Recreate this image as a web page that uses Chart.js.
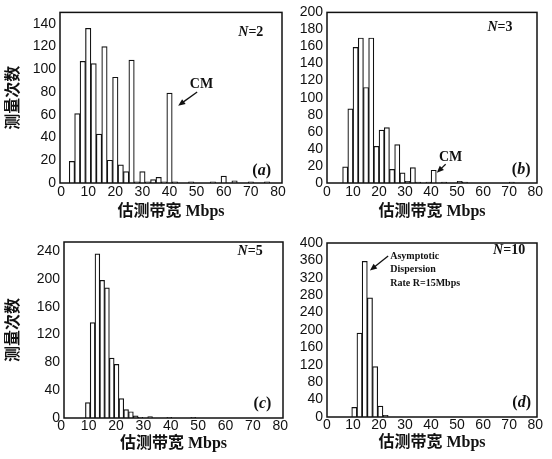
<!DOCTYPE html>
<html><head><meta charset="utf-8">
<script src="https://cdn.jsdelivr.net/npm/chart.js@4/dist/chart.umd.min.js"></script>
<style>
html,body{margin:0;padding:0;background:#fff;}
body{width:552px;height:459px;position:relative;overflow:hidden;}
canvas{position:absolute;}
</style></head><body>
<canvas id="ca" style="left:0px;top:0px;width:296px;height:228px" width="296" height="228"></canvas>
<canvas id="cb" style="left:296px;top:0px;width:256px;height:228px" width="256" height="228"></canvas>
<canvas id="cc" style="left:0px;top:228px;width:296px;height:231px" width="296" height="231"></canvas>
<canvas id="cd" style="left:296px;top:228px;width:256px;height:231px" width="256" height="231"></canvas>
<script>
// ---- data (bin centres in Mbps, counts) ----
const xTicks = [0,10,20,30,40,50,60,70,80];
const yTicksA = [0,20,40,60,80,100,120,140];
const yTicksB = [0,20,40,60,80,100,120,140,160,180,200];
const yTicksC = [0,40,80,120,160,200,240];
const yTicksD = [0,40,80,120,160,200,240,280,320,360,400];

const binsA   = [4,6,8,10,12,14,16,18,20,22,24,26,28,30,32,34,36,38,40,42,48,56,60,64,70,76];
const countsA = [19,61,107,136,105,43,120,20,93,16,10,108,1,10,1,3,5,1,79,1,1,1,6,2,1,1];

const binsB   = [7,9,11,13,15,17,19,21,23,25,27,29,31,33,35,39,41,45,51,53,71];
const countsB = [19,87,159,170,112,170,43,62,65,16,45,12,2,18,1,1,15,1,2,1,1];

const binsC   = [9.7,11.45,13.2,14.95,16.7,18.45,20.2,21.95,23.7,25.45,27.2,28.95,32.45,39.45,48.2];
const countsC = [22,137,236,198,187,86,77,28,12,9,3,1,2,1,1];

const binsD   = [10.5,12.5,14.5,16.5,18.5,20.5,22.5];
const countsD = [22,193,358,274,116,25,4];

const xTitle = '估测带宽 Mbps';
const yTitle = '测量次数';

// ---- helpers ----
const TICK_FONT = {family:'"Liberation Sans", Arial, sans-serif', size:14};
const TITLE_FONT = {family:'"Liberation Serif", "Noto Sans CJK SC", serif', size:16, weight:'bold'};

const framePlugin = {
  id:'frame',
  afterDraw(chart){
    const {ctx, chartArea:a} = chart;
    ctx.save();
    ctx.strokeStyle = '#111';
    ctx.lineWidth = 1.5;
    ctx.strokeRect(a.left, a.top, a.right - a.left, a.bottom - a.top);
    const notes = chart.options.plugins.notes || {};
    const xs = chart.scales.x, ys = chart.scales.y;
    (notes.texts || []).forEach(n => {
      let px = xs.getPixelForValue(n.x), py = ys.getPixelForValue(n.y);
      ctx.textBaseline = 'middle';
      let total = 0;
      n.parts.forEach(p => { ctx.font = p.font; total += ctx.measureText(p.t).width; });
      let cx = n.align === 'left' ? px : (n.align === 'right' ? px - total : px - total/2);
      ctx.fillStyle = '#111';
      ctx.textAlign = 'left';
      n.parts.forEach(p => { ctx.font = p.font; ctx.fillText(p.t, cx, py); cx += ctx.measureText(p.t).width; });
    });
    (notes.arrows || []).forEach(ar => {
      const x1 = xs.getPixelForValue(ar.x1), y1 = ys.getPixelForValue(ar.y1);
      const x2 = xs.getPixelForValue(ar.x2), y2 = ys.getPixelForValue(ar.y2);
      const ang = Math.atan2(y2 - y1, x2 - x1);
      const hl = 7, hw = 3;
      ctx.strokeStyle = '#111'; ctx.fillStyle = '#111'; ctx.lineWidth = 1.3;
      ctx.beginPath(); ctx.moveTo(x1, y1);
      ctx.lineTo(x2 - Math.cos(ang)*hl*0.8, y2 - Math.sin(ang)*hl*0.8); ctx.stroke();
      ctx.beginPath();
      ctx.moveTo(x2, y2);
      ctx.lineTo(x2 - Math.cos(ang)*hl + Math.sin(ang)*hw, y2 - Math.sin(ang)*hl - Math.cos(ang)*hw);
      ctx.lineTo(x2 - Math.cos(ang)*hl - Math.sin(ang)*hw, y2 - Math.sin(ang)*hl + Math.cos(ang)*hw);
      ctx.closePath(); ctx.fill();
    });
    ctx.restore();
  }
};

const SERIF = '"Liberation Serif", "Times New Roman", serif';
function nLabel(x, y, num){
  return {x, y, align:'center', parts:[
    {t:'N', font:'italic bold 14px ' + SERIF},
    {t:'=' + num, font:'bold 14px ' + SERIF}]};
}
function panelLabel(x, y, letter){
  return {x, y, align:'center', parts:[
    {t:'(', font:'bold 16px ' + SERIF},
    {t:letter, font:'italic bold 16px ' + SERIF},
    {t:')', font:'bold 16px ' + SERIF}]};
}

function makeChart(id, bins, counts, cfg){
  const pts = bins.map((b, i) => ({x:b, y:counts[i]}));
  return new Chart(document.getElementById(id), {
    type:'bar',
    data:{datasets:[{
      data:pts,
      backgroundColor:'#ffffff',
      borderColor:'#111111',
      borderWidth:1.2,
      barPercentage:1,
      categoryPercentage:1,
      borderSkipped:'bottom'
    }]},
    options:{
      responsive:false,
      devicePixelRatio:1,
      animation:false,
      events:[],
      layout:{padding:cfg.padding},
      plugins:{legend:{display:false}, tooltip:{enabled:false}, notes:cfg.notes},
      scales:{
        x:{
          type:'linear', min:cfg.xmin, max:cfg.xmax, offset:false,
          grid:{display:false, drawTicks:false},
          border:{display:false},
          afterBuildTicks:s => { s.ticks = xTicks.map(v => ({value:v})); },
          afterFit:s => { s.height = cfg.xh; },
          ticks:{font:TICK_FONT, color:'#111', padding:cfg.xtk, maxRotation:0, autoSkip:false},
          title:{display:true, text:xTitle, font:TITLE_FONT, color:'#111', padding:{top:0,bottom:cfg.xtp}}
        },
        y:{
          min:0, max:cfg.ymax,
          grid:{display:false, drawTicks:false},
          border:{display:false},
          afterBuildTicks:s => { s.ticks = cfg.yTicks.map(v => ({value:v})); },
          afterFit:s => { s.width = cfg.yw; },
          ticks:{font:TICK_FONT, color:'#111', padding:4, autoSkip:false},
          title:{display:cfg.ytitle, text:yTitle, font:TITLE_FONT, color:'#111', padding:{top:4,bottom:0}}
        }
      }
    },
    plugins:[framePlugin]
  });
}

makeChart('ca', binsA, countsA, {
  padding:{left:0, right:14, top:9, bottom:0}, xmin:-0.4, xmax:81.5, xh:45, xtp:7, xtk:1,
  ymax:150, yTicks:yTicksA, yw:60, ytitle:true,
  notes:{texts:[nLabel(70,132,2), panelLabel(74,11,'a'),
    {x:51.8, y:87, align:'center', parts:[{t:'CM', font:'bold 14px ' + SERIF}]}],
    arrows:[{x1:50.2, y1:80, x2:43.2, y2:68}]}
});
makeChart('cb', binsB, countsB, {
  padding:{left:0, right:15, top:10, bottom:0}, xmin:0, xmax:80.7, xh:45, xtp:7, xtk:1,
  ymax:200, yTicks:yTicksB, yw:31, ytitle:false,
  notes:{texts:[nLabel(66.5,182,3), panelLabel(74.6,15,'b'),
    {x:47.5, y:30, align:'center', parts:[{t:'CM', font:'bold 14px ' + SERIF}]}],
    arrows:[{x1:45.6, y1:22, x2:42.2, y2:12}]}
});
makeChart('cc', binsC, countsC, {
  padding:{left:0, right:13, top:14, bottom:0}, xmin:1, xmax:81, xh:41, xtp:6, xtk:0,
  ymax:253, yTicks:yTicksC, yw:64, ytitle:true,
  notes:{texts:[nLabel(69,240,5), panelLabel(73.5,21,'c')]}
});
makeChart('cd', binsD, countsD, {
  padding:{left:0, right:15, top:15, bottom:0}, xmin:0, xmax:80.7, xh:42, xtp:7, xtk:0,
  ymax:400, yTicks:yTicksD, yw:31, ytitle:false,
  notes:{texts:[nLabel(70,382,10), panelLabel(74.8,33,'d'),
    {x:24.3, y:370, align:'left', parts:[{t:'Asymptotic', font:'bold 10px ' + SERIF}]},
    {x:24.3, y:340, align:'left', parts:[{t:'Dispersion', font:'bold 10px ' + SERIF}]},
    {x:24.3, y:306, align:'left', parts:[{t:'Rate R=15Mbps', font:'bold 10px ' + SERIF}]}],
    arrows:[{x1:23.5, y1:370, x2:16.5, y2:337}]}
});
</script>
</body></html>
